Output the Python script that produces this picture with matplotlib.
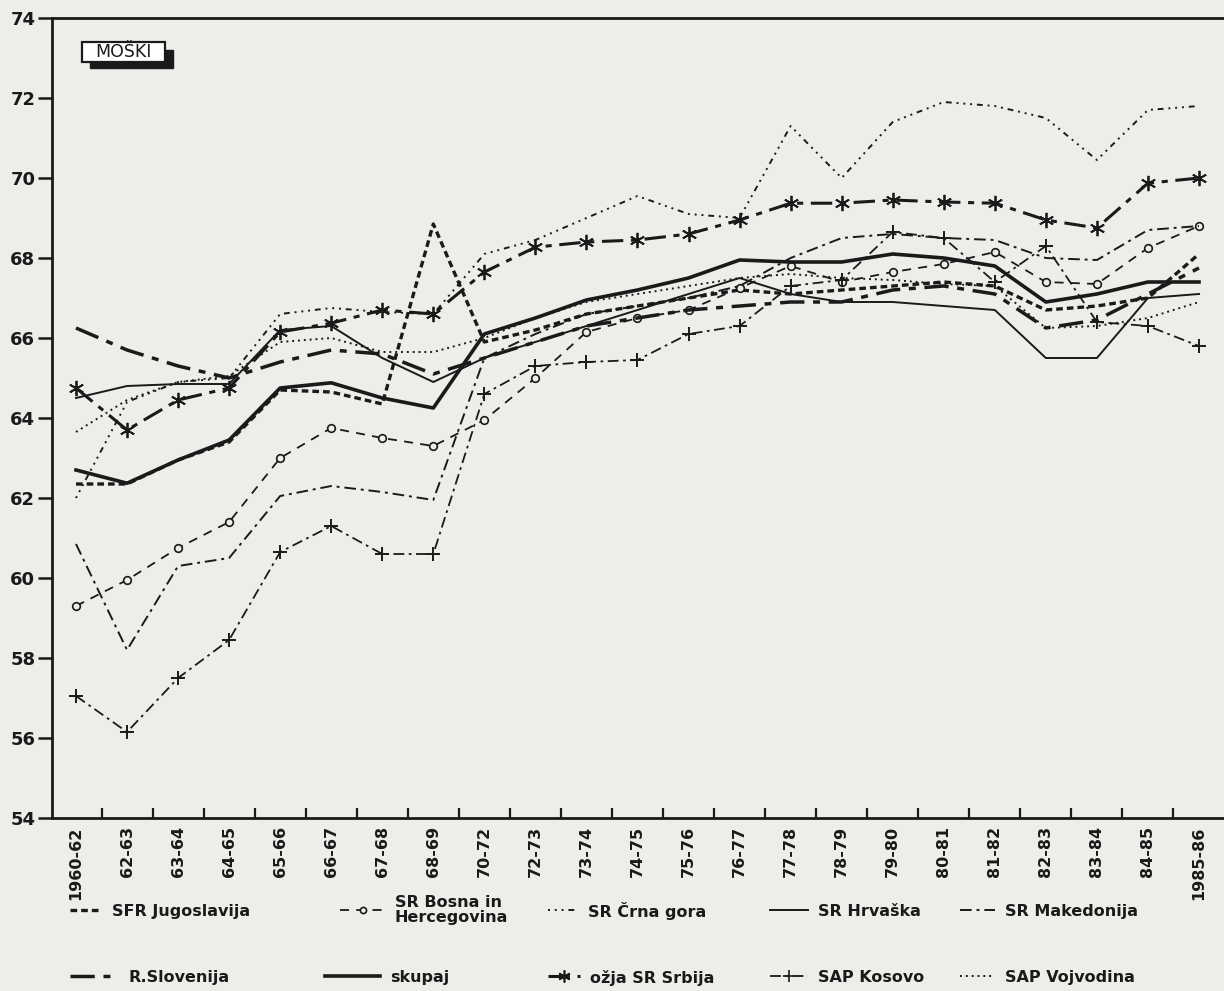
import matplotlib
matplotlib.use("Agg")
import matplotlib.pyplot as plt
from matplotlib.patches import Rectangle
from matplotlib.lines import Line2D
import numpy as np

periods = ['1960-62', '62-63', '63-64', '64-65', '65-66', '66-67', '67-68', '68-69',
           '70-72', '72-73', '73-74', '74-75', '75-76', '76-77', '77-78', '78-79',
           '79-80', '80-81', '81-82', '82-83', '83-84', '84-85', '1985-86']

sfrj = [62.35, 62.35, 62.95, 63.4, 64.7, 64.65, 64.35, 68.85, 65.9, 66.2, 66.6, 66.8,
        67.0, 67.2, 67.1, 67.2, 67.3, 67.4, 67.3, 66.7, 66.8, 67.0, 68.1]
bih = [59.3, 59.95, 60.75, 61.4, 63.0, 63.75, 63.5, 63.3, 63.95, 65.0, 66.15, 66.5,
       66.7, 67.25, 67.8, 67.4, 67.65, 67.85, 68.15, 67.4, 67.35, 68.25, 68.8]
cg = [62.0, 64.4, 64.9, 65.0, 66.6, 66.75, 66.65, 66.6, 68.1, 68.45, 69.0, 69.55,
      69.1, 69.0, 71.3, 70.0, 71.4, 71.9, 71.8, 71.5, 70.45, 71.7, 71.8]
hrv = [64.5, 64.8, 64.85, 64.85, 66.2, 66.3, 65.5, 64.9, 65.5, 65.9, 66.3, 66.7,
       67.1, 67.5, 67.1, 66.9, 66.9, 66.8, 66.7, 65.5, 65.5, 67.0, 67.1]
mak = [60.85, 58.2, 60.3, 60.5, 62.05, 62.3, 62.15, 61.95, 65.5, 66.1, 66.6, 66.8,
       67.0, 67.3, 68.0, 68.5, 68.6, 68.5, 68.45, 68.0, 67.95, 68.7, 68.8]
slo = [66.25, 65.7, 65.3, 65.0, 65.4, 65.7, 65.6, 65.1, 65.5, 65.9, 66.3, 66.5,
       66.7, 66.8, 66.9, 66.9, 67.2, 67.3, 67.1, 66.25, 66.45, 67.1, 67.75]
skupaj = [62.7, 62.37, 62.95, 63.45, 64.75, 64.88, 64.5, 64.25, 66.1, 66.5, 66.95, 67.2,
          67.5, 67.95, 67.9, 67.9, 68.1, 68.0, 67.8, 66.9, 67.1, 67.4, 67.4]
srb = [64.75, 63.7, 64.45, 64.75, 66.15, 66.37, 66.7, 66.6, 67.65, 68.27, 68.4, 68.45,
       68.6, 68.95, 69.37, 69.37, 69.45, 69.4, 69.37, 68.95, 68.75, 69.87, 70.0]
kos = [57.05, 56.15, 57.5, 58.45, 60.65, 61.3, 60.6, 60.6, 64.6, 65.3, 65.4, 65.45,
       66.1, 66.3, 67.3, 67.45, 68.65, 68.5, 67.4, 68.3, 66.4, 66.3, 65.8]
voj = [63.65, 64.45, 64.9, 65.05, 65.9, 66.0, 65.65, 65.65, 66.0, 66.5, 66.9, 67.1,
       67.3, 67.5, 67.6, 67.5, 67.45, 67.35, 67.3, 66.25, 66.3, 66.5, 66.9]

names = ['SFR Jugoslavija', 'SR Bosna in\nHercegovina', 'SR Črna gora', 'SR Hrvaška',
         'SR Makedonija', 'R.Slovenija', 'skupaj', 'ožja SR Srbija', 'SAP Kosovo',
         'SAP Vojvodina']

ink = '#1a1a1a'
bg = '#ededea'
W, H = 1224, 991

fig = plt.figure(figsize=(W / 100, H / 100), dpi=100, facecolor=bg)
ax = fig.add_axes([52 / W, 1 - 818 / H, 1 - 52 / W, 800 / H])
ax.set_facecolor(bg)
x = np.arange(len(periods))

styles = {
    'SFR Jugoslavija': dict(ls=(0, (2.0, 1.2)), lw=2.4),
    'SR Bosna in\nHercegovina': dict(ls=(0, (5, 4)), lw=1.3, marker='o', ms=5.5,
                                      mfc=bg, mew=1.2),
    'SR Črna gora': dict(ls=(0, (1, 2.5, 1, 2.5, 1, 2.5, 3, 2.5)), lw=1.4),
    'SR Hrvaška': dict(ls='-', lw=1.4),
    'SR Makedonija': dict(ls=(0, (6, 2.5, 1.5, 2.5)), lw=1.4),
    'R.Slovenija': dict(ls=(0, (7, 2.5, 2, 2.5)), lw=2.5),
    'skupaj': dict(ls='-', lw=2.6),
    'ožja SR Srbija': dict(ls=(0, (7, 2.5, 2, 2.5)), lw=2.2, marker=(6, 2, 0), ms=11, mew=1.3),
    'SAP Kosovo': dict(ls=(0, (6, 2.5, 1.5, 2.5)), lw=1.3, marker='+', ms=10, mew=1.4),
    'SAP Vojvodina': dict(ls=(0, (1, 2)), lw=1.4),
}
data = {'SFR Jugoslavija': sfrj, 'SR Bosna in\nHercegovina': bih, 'SR Črna gora': cg,
        'SR Hrvaška': hrv, 'SR Makedonija': mak, 'R.Slovenija': slo, 'skupaj': skupaj,
        'ožja SR Srbija': srb, 'SAP Kosovo': kos, 'SAP Vojvodina': voj}

for n in names:
    st = dict(styles[n])
    ls = st.pop('ls')
    ax.plot(x, data[n], color=ink, linestyle=ls, mec=ink, **st)

ax.set_xlim(-0.47, 22.49)
ax.set_ylim(54, 74)
ax.set_yticks(np.arange(54, 75, 2))
ax.set_yticklabels([str(v) for v in range(54, 75, 2)], fontsize=13, fontweight='bold',
                   color=ink)
ax.tick_params(axis='y', direction='out', length=10, width=1.8, pad=2, colors=ink)
ax.set_xticks(x)
ax.set_xticklabels(periods, rotation=90, fontsize=11.5, fontweight='bold', color=ink)
ax.set_xticks(x[:-1] + 0.5, minor=True)
ax.tick_params(axis='x', which='major', length=0, pad=6)
ax.tick_params(axis='x', which='minor', direction='in', length=7, width=1.6, colors=ink)
for s in ['left', 'bottom', 'top']:
    ax.spines[s].set_linewidth(2.0)
    ax.spines[s].set_color(ink)
ax.spines['right'].set_visible(False)

# MOŠKI label box with drop shadow
ax.add_patch(Rectangle((0.0324, 0.9375), 0.0708, 0.0225, transform=ax.transAxes,
                       facecolor=ink, edgecolor=ink, zorder=5))
ax.add_patch(Rectangle((0.0256, 0.945), 0.0708, 0.025, transform=ax.transAxes,
                       facecolor='white', edgecolor=ink, lw=1.6, zorder=6))
ax.text(0.0610, 0.9575, 'MOŠKI', transform=ax.transAxes, ha='center', va='center',
        fontsize=12.5, color=ink, zorder=7)

# legend, placed entry by entry
row_y = {0: 910, 1: 976}
entries = [
    ('SFR Jugoslavija', 0, 70, 100, 112),
    ('SR Bosna in\nHercegovina', 0, 340, 385, 395),
    ('SR Črna gora', 0, 548, 578, 588),
    ('SR Hrvaška', 0, 770, 808, 818),
    ('SR Makedonija', 0, 960, 995, 1005),
    ('R.Slovenija', 1, 70, 112, 128),
    ('skupaj', 1, 325, 380, 390),
    ('ožja SR Srbija', 1, 548, 580, 590),
    ('SAP Kosovo', 1, 770, 808, 818),
    ('SAP Vojvodina', 1, 960, 995, 1005),
]
for n, r, x0, x1, xt in entries:
    yf = 1 - row_y[r] / H
    st = dict(styles[n])
    ls = st.pop('ls')
    ms = st.pop('ms', 0) * 0.8
    mk = st.pop('marker', None)
    st.pop('mfc', None)
    st.pop('mew', None)
    fig.add_artist(Line2D([x0 / W, x1 / W], [yf, yf], transform=fig.transFigure,
                          color=ink, linestyle=ls, lw=st['lw']))
    if mk is not None:
        fig.add_artist(Line2D([(x0 + x1) / 2 / W], [yf], transform=fig.transFigure,
                              color=ink, marker=mk, ms=ms, mfc=bg, mec=ink, mew=1.2,
                              linestyle='none'))
    fig.text(xt / W, yf, n, ha='left', va='center_baseline' if '\n' not in n else 'center',
             fontsize=11.5, fontweight='bold', color=ink, linespacing=0.95)

fig.savefig('out.png', dpi=100, facecolor=bg)
